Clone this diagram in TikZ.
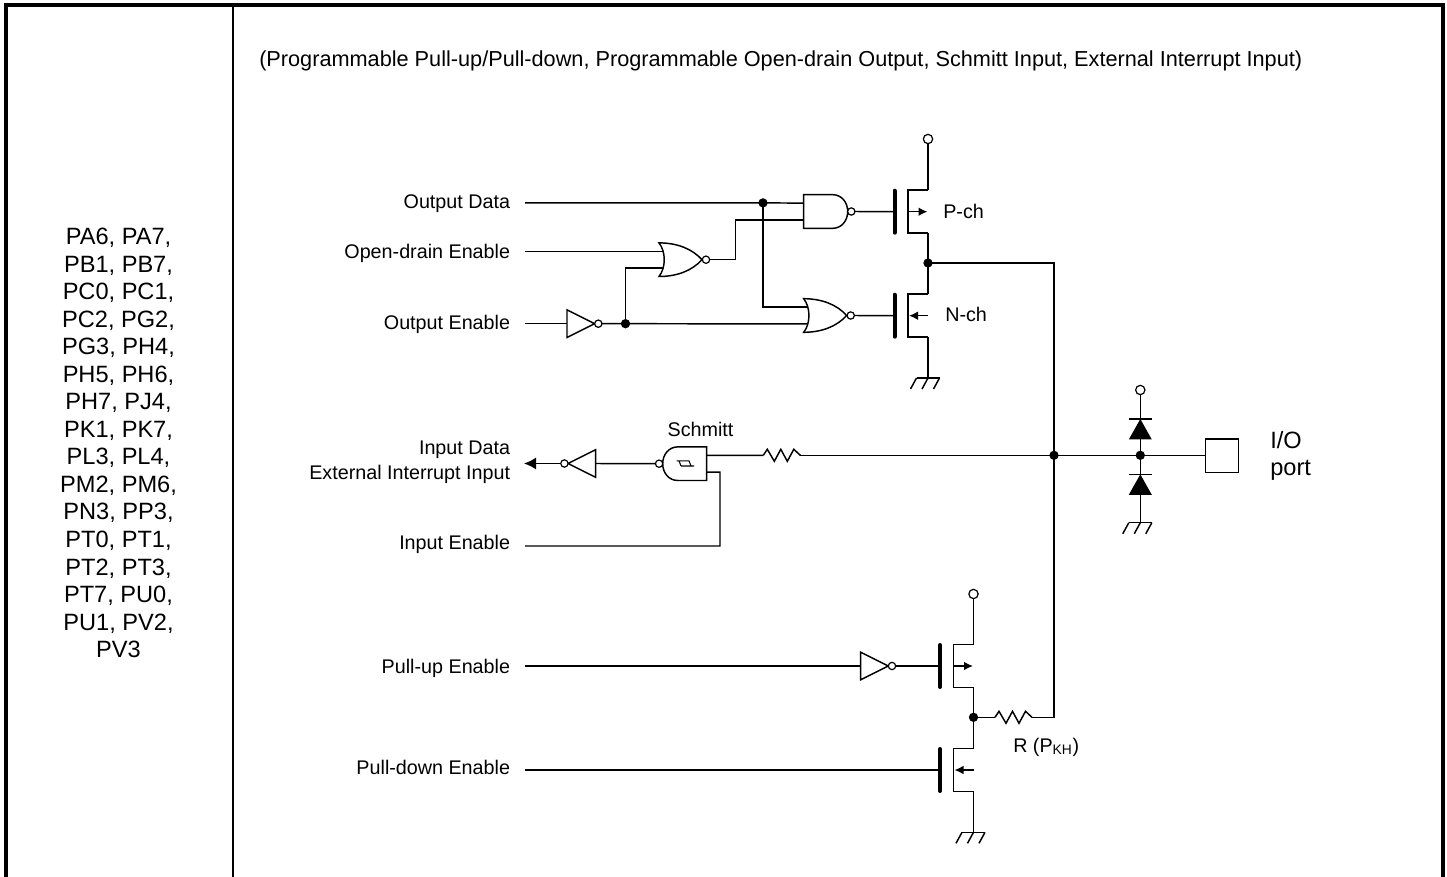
\documentclass[tikz,border=0pt]{standalone}
\usepackage{fontspec}
\usetikzlibrary{arrows.meta}
\setmainfont{Liberation Sans}
\tikzset{
	wire/.style={line width=1.1pt},
	dotnode/.style={circle,fill=black,inner sep=0pt,minimum size=7pt},
	opennode/.style={circle,draw,line width=0.9pt,fill=white,inner sep=0pt,minimum size=7pt},
	siglabel/.style={anchor=east,inner xsep=11pt,inner ysep=0pt,text height=10pt,text depth=3pt,font=\fontsize{14.8}{16}\selectfont},
	bigtext/.style={font=\fontsize{17.7}{20.65}\selectfont,align=center},
	smalltext/.style={inner sep=0pt,font=\fontsize{14.8}{16}\selectfont},
	mostip/.style={-{Latex[length=6.75pt,width=6.5pt]}},
	nandgate/.pic={
		\draw[wire] (0,-16.8) -- (29,-16.8) .. controls (38,-16.8) and (44,-9) .. (44,0) .. controls (44,9) and (38,16.8) .. (29,16.8) -- (0,16.8) -- cycle;
		\node[opennode,minimum size=5.5pt] at (47.6,0) {};
		\coordinate (-in1) at (0,-8.4);
		\coordinate (-in2) at (0,8.4);
		\coordinate (-out) at (51.3,0);
	},
	norgate/.pic={
		\draw[wire] (0,-16.8) .. controls (7,-8) and (7,8) .. (0,16.8) .. controls (18,16.8) and (33,11) .. (43,0) .. controls (33,-11) and (18,-16.8) .. (0,-16.8) -- cycle;
		\node[opennode,minimum size=5.5pt] at (47,0) {};
		\coordinate (-in1) at (4.2,-8.4);
		\coordinate (-in2) at (4.2,8.4);
		\coordinate (-out) at (50.7,0);
	},
	invgate/.pic={
		\draw[wire] (0,-13.8) -- (27.6,0) -- (0,13.8) -- cycle;
		\node[opennode,minimum size=5.5pt] at (31.3,0) {};
		\coordinate (-in) at (0,0);
		\coordinate (-out) at (35,0);
	},
	pmosfet/.pic={
		\draw[line width=3pt,line cap=round] (0,-21) -- (0,21);
		\draw[wire] (33.5,-21.5) -- (13.5,-21.5) -- (13.5,21.5) -- (33.5,21.5);
		\draw[wire,mostip] (13.5,0) -- (33,0);
		\coordinate (-g) at (0,0);
		\coordinate (-d) at (33.5,-21.5);
		\coordinate (-s) at (33.5,21.5);
	},
	nmosfet/.pic={
		\draw[line width=3pt,line cap=round] (0,-21) -- (0,21);
		\draw[wire] (33.5,-21.5) -- (13.5,-21.5) -- (13.5,21.5) -- (33.5,21.5);
		\draw[wire,mostip] (33.5,0) -- (14.5,0);
		\coordinate (-g) at (0,0);
		\coordinate (-d) at (33.5,-21.5);
		\coordinate (-s) at (33.5,21.5);
	},
	gndsym/.pic={
		\draw[wire] (-11.5,0) -- (11.5,0);
		\foreach \xp in {-11.5,0,11.5}
			\draw[wire] (\xp,0) -- (\xp-6,11);
		\coordinate (-top) at (0,0);
	},
	diodesym/.pic={
		\draw[wire] (-11.5,0) -- (11.5,0);
		\fill (0,0) -- (11.5,20.5) -- (-11.5,20.5) -- cycle;
		\coordinate (-k) at (0,0);
		\coordinate (-a) at (0,20.5);
	},
	zigzag/.pic={
		\draw[wire] (0,0) -- (4,-6) -- (11,6) -- (17.5,-6) -- (24,6) -- (30.5,-6) -- (37,0);
		\coordinate (-a) at (0,0);
		\coordinate (-b) at (37,0);
	}
}
\begin{document}
\begin{tikzpicture}[x=0.75pt,y=-0.75pt]
	\useasboundingbox (0,0) rectangle (1447,877);

	% Table frame
	\draw[line width=3pt] (6,877) -- (6,5) -- (1443,5) -- (1443,877);
	\draw[line width=1.6pt] (233,5) -- (233,877);

	% Pin list and heading
	\node[bigtext] (pinlist) at (118.5,443) {PA6, PA7,\\PB1, PB7,\\PC0, PC1,\\PC2, PG2,\\PG3, PH4,\\PH5, PH6,\\PH7, PJ4,\\PK1, PK7,\\PL3, PL4,\\PM2, PM6,\\PN3, PP3,\\PT0, PT1,\\PT2, PT3,\\PT7, PU0,\\PU1, PV2,\\PV3};
	\node[anchor=west,inner sep=0pt,font=\fontsize{16.27}{18}\selectfont] (heading) at (259,60.5) {(Programmable Pull-up/Pull-down, Programmable Open-drain Output, Schmitt Input, External Interrupt Input)};

	% Signal names
	\node[siglabel] (outdata) at (525,204.3) {Output Data};
	\node[siglabel] (oden) at (525,254.3) {Open-drain Enable};
	\node[siglabel] (outen) at (525,325.3) {Output Enable};
	\node[siglabel] (indata) at (525,450.3) {Input Data};
	\node[siglabel] (extint) at (525,474.6) {External Interrupt Input};
	\node[siglabel] (inen) at (525,545.3) {Input Enable};
	\node[siglabel] (puen) at (525,668.7) {Pull-up Enable};
	\node[siglabel] (pden) at (525,770) {Pull-down Enable};

	% Output stage
	\pic (nandp) at (803.7,211.5) {nandgate};
	\pic (norone) at (659,259.7) {norgate};
	\pic (nortwo) at (803.7,315.5) {norgate};
	\pic (invoe) at (567,323.7) {invgate};
	\pic (pch) at (894.5,211.7) {pmosfet};
	\pic (nch) at (894.5,315.7) {nmosfet};
	\pic (gndn) at (928,378) {gndsym};
	\node[opennode] (vddp) at (928,139) {};
	\node[dotnode] (dotdata) at (763,202.9) {};
	\node[dotnode] (dotoe) at (625.5,323.7) {};
	\node[dotnode] (dotp) at (928,263) {};
	\coordinate (bendnand) at (735.3,259.7);
	\node[smalltext,anchor=west] (pchname) at (943,211.3) {P-ch};
	\node[smalltext,anchor=west] (nchname) at (945,314.7) {N-ch};

	% Lines of the output stage
	\draw[wire] (outdata.east |- dotdata) -- (dotdata.center) -- (nandp-in1);
	\draw[wire] (dotdata.center) |- (nortwo-in1);
	\draw[wire] (oden.east |- norone-in1) -- (norone-in1);
	\draw[wire] (outen.east |- invoe-in) -- (invoe-in);
	\draw[wire] (invoe-out) -- (dotoe.center) -- (nortwo-in2);
	\draw[wire] (dotoe.center) |- (norone-in2);
	\draw[wire] (norone-out) -- (bendnand) |- (nandp-in2);
	\draw[wire] (nandp-out) -- (pch-g);
	\draw[wire] (nortwo-out) -- (nch-g);
	\draw[wire] (vddp) -- (pch-d);
	\draw[wire] (pch-s) -- (dotp.center) -- (nch-d);
	\draw[wire] (nch-s) -- (gndn-top);

	% Input stage
	\pic[xscale=-1] (schmitt) at (706.7,463.7) {nandgate};
	\pic[xscale=-1] (invin) at (595.7,463.5) {invgate};
	\pic (rin) at (763.3,455.3) {zigzag};
	\coordinate (intip) at (524,463.5);
	\coordinate (enbend) at (720,472.1);
	\coordinate (enstart) at (525,546);
	\node[smalltext] (schmittname) at (700.5,429.7) {Schmitt};
	\draw[line width=0.8pt] (676.5,460.8) -- (689,460.8) -- (691,466) (681,466) -- (694,466) (679,460.8) -- (681,466);

	% Lines of the input stage
	\draw[wire,-{Latex[length=9pt,width=9pt]}] (invin-out) -- (intip);
	\draw[wire] (schmitt-out) -- (invin-in);
	\draw[wire] (schmitt-in1) -- (rin-a);
	\draw[wire] (schmitt-in2) -- (enbend) |- (enstart);

	% I/O port and protection diodes
	\node[dotnode] (dotbus) at (1054,455.3) {};
	\node[dotnode] (dotio) at (1140.3,455.3) {};
	\node[opennode] (vddio) at (1140.3,390) {};
	\pic (diodeup) at (1140.3,419) {diodesym};
	\pic (diodedn) at (1140.3,474.3) {diodesym};
	\pic (gndio) at (1140.3,522.7) {gndsym};
	\node[draw,line width=1.1pt,minimum size=25pt,inner sep=0pt] (port) at (1222,455.8) {};
	\node[bigtext,anchor=west,inner sep=0pt,align=left] (portname) at (1270,456) {I/O\\port};

	% Lines of the I/O port
	\draw[wire] (rin-b) -- (dotbus.center) -- (dotio.center) -- (port.west |- dotio);
	\draw[wire] (dotp.center) -| (dotbus.center);
	\draw[wire] (vddio) -- (diodeup-k);
	\draw[wire] (diodeup-a) -- (dotio.center) -- (diodedn-k);
	\draw[wire] (diodedn-a) -- (gndio-top);

	% Pull-up and pull-down
	\pic (invpu) at (860.7,666) {invgate};
	\pic (pup) at (940,666) {pmosfet};
	\pic (pdn) at (940,770) {nmosfet};
	\pic (rpull) at (995,717.3) {zigzag};
	\pic (gndd) at (973.5,832.3) {gndsym};
	\node[opennode] (vddu) at (973.5,594) {};
	\node[dotnode] (dotpull) at (973.5,717.3) {};
	\node[smalltext,anchor=west] (rname) at (1013,747) {R (P\textsubscript{KH})};

	% Lines of the pull-up and pull-down
	\draw[wire] (puen.east |- invpu-in) -- (invpu-in);
	\draw[wire] (invpu-out) -- (pup-g);
	\draw[wire] (pden.east |- pdn-g) -- (pdn-g);
	\draw[wire] (vddu) -- (pup-d);
	\draw[wire] (pup-s) -- (dotpull.center) -- (pdn-d);
	\draw[wire] (pdn-s) -- (gndd-top);
	\draw[wire] (dotpull.center) -- (rpull-a);
	\draw[wire] (rpull-b) -| (dotbus.center);
\end{tikzpicture}
\end{document}
